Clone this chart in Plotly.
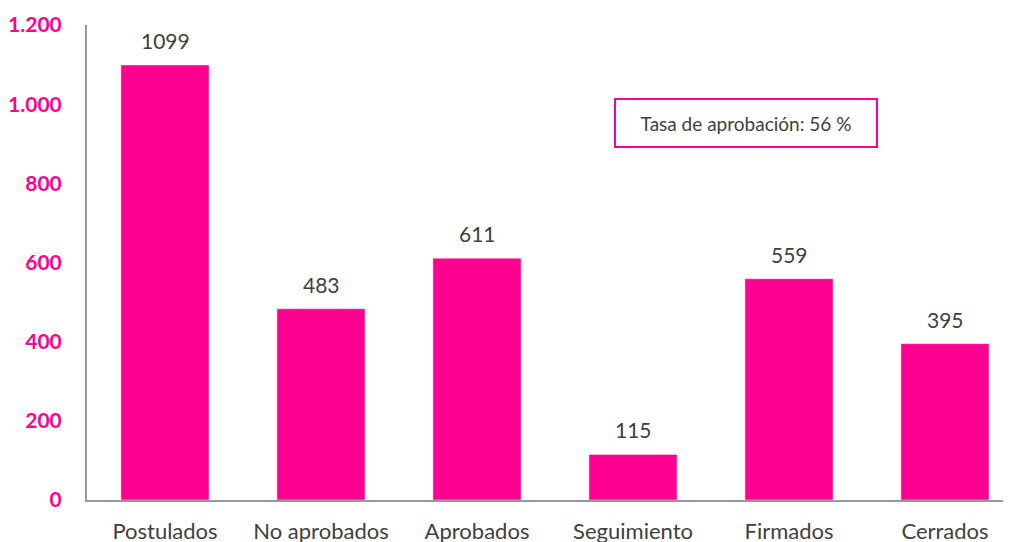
import plotly.graph_objects as go

categories = ["Postulados", "No aprobados", "Aprobados", "Seguimiento", "Firmados", "Cerrados"]
values = [1099, 483, 611, 115, 559, 395]
y_ticks = [0, 200, 400, 600, 800, 1000, 1200]
y_tick_labels = ["0", "200", "400", "600", "800", "1.000", "1.200"]
note_text = "Tasa de aprobación: 56 %"

PINK = "#FF0090"
GREY_TXT = "#404040"
FONT = "Lato, 'Open Sans', sans-serif"

fig = go.Figure()
fig.add_trace(go.Bar(
    x=list(range(len(categories))), y=values,
    marker_color=PINK, width=0.565, showlegend=False,
))

# value labels above each bar
for i, v in enumerate(values):
    fig.add_annotation(
        x=i, y=v, text=str(v), showarrow=False,
        yanchor="bottom", yshift=10,
        font=dict(family=FONT, size=21, color=GREY_TXT),
    )

# approval-rate box
fig.add_annotation(
    x=3.724, y=952, text=note_text, showarrow=False,
    xanchor="center", yanchor="middle",
    width=256, height=42,
    bordercolor=PINK, borderwidth=2, borderpad=2,
    font=dict(family=FONT, size=19, color=GREY_TXT),
)

fig.update_xaxes(
    range=[-0.5, 5.423], automargin=False,
    tickmode="array", tickvals=list(range(len(categories))), ticktext=categories,
    showline=True, linecolor="#999999", linewidth=2,
    showgrid=False, zeroline=False, ticks="",
    ticklabelstandoff=11,
    tickfont=dict(family=FONT, size=22, color=GREY_TXT),
)
fig.update_yaxes(
    range=[0, 1200], automargin=False,
    tickmode="array", tickvals=y_ticks, ticktext=y_tick_labels,
    showline=True, linecolor="#999999", linewidth=2,
    showgrid=False, zeroline=False, ticks="",
    ticklabelstandoff=19,
    tickfont=dict(family=FONT, size=21, color=PINK, weight="bold"),
)

# page body adds an 8 px offset, so the figure is 8 px smaller than the window
fig.update_layout(
    width=1003, height=534,
    margin=dict(l=79, r=0, t=17, b=42),
    plot_bgcolor="white", paper_bgcolor="white",
    bargap=0.44,
)

fig.write_html("out.html")
